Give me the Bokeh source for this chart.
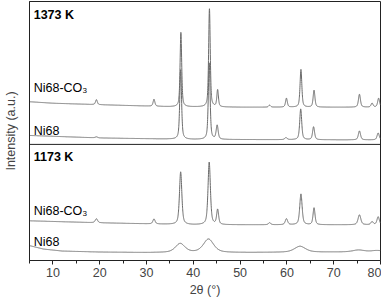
import numpy as np
from bokeh.plotting import figure
from bokeh.models import Span, FixedTicker, Label
from bokeh.embed import file_html
from bokeh.resources import INLINE

# ---- data ----
two_theta_min, two_theta_max = 5, 80
x_ticks = [10, 20, 30, 40, 50, 60, 70, 80]
x_minor = [5, 15, 25, 35, 45, 55, 65, 75]

# 1373 K, Ni68-CO3
hiT_co3_pos = [19.3, 31.6, 37.35, 43.45, 45.2, 56.3, 59.9, 63.0, 65.8, 75.5, 78.2, 79.6]
hiT_co3_hgt = [5, 7, 75, 99, 17, 2, 9, 38, 17, 13, 4, 9]
hiT_co3_fw = [0.45, 0.45, 0.4, 0.4, 0.4, 0.5, 0.45, 0.45, 0.45, 0.5, 0.5, 0.5]
hiT_co3_bg_x = [5, 10, 20, 35, 50, 80]
hiT_co3_bg_y = [160, 158.5, 157, 155, 154.5, 154.5]

# 1373 K, Ni68
hiT_ni_pos = [19.3, 37.3, 43.4, 45.1, 59.8, 62.95, 65.7, 75.5, 79.5]
hiT_ni_hgt = [1, 70, 77, 14, 2, 31, 13, 9, 7]
hiT_ni_fw = [0.6, 0.45, 0.45, 0.5, 0.6, 0.5, 0.5, 0.55, 0.55]
hiT_ni_bg_x = [5, 20, 40, 80]
hiT_ni_bg_y = [126, 123.5, 122, 121.5]

# 1173 K, Ni68-CO3
loT_co3_pos = [19.3, 31.6, 37.3, 43.4, 45.2, 56.3, 59.9, 63.0, 65.8, 75.5, 78.2, 79.5]
loT_co3_hgt = [4, 5, 53, 63, 15, 2, 6, 31, 17, 10, 3, 8]
loT_co3_fw = [0.6, 0.55, 0.6, 0.6, 0.5, 0.6, 0.6, 0.6, 0.5, 0.7, 0.6, 0.6]
loT_co3_bg_x = [5, 20, 40, 80]
loT_co3_bg_y = [40, 38, 36, 36]

# 1173 K, Ni68 (broad)
loT_ni_pos = [37.2, 43.25, 62.8, 75.3, 79.3]
loT_ni_hgt = [9, 13.5, 6, 2, 1.5]
loT_ni_fw = [2.4, 2.6, 2.8, 3.0, 3.0]
loT_ni_bg_x = [5, 8, 12, 20, 30, 50, 70, 80]
loT_ni_bg_y = [15, 11.5, 9.5, 8.5, 8, 8, 8.5, 8.5]

divider_level = 117
y_min, y_max = 0, 261

labels = [
    ("1373 K", 247, True),
    ("Ni68-CO\u2083", 174, False),
    ("Ni68", 131, False),
    ("1173 K", 104, True),
    ("Ni68-CO\u2083", 50, False),
    ("Ni68", 19, False),
]

x = np.arange(two_theta_min, two_theta_max + 0.001, 0.02)


def pattern(pos, hgt, fw, bgx, bgy, eta=0.55):
    y = np.interp(x, bgx, bgy)
    for p0, h, w in zip(pos, hgt, fw):
        d = (x - p0) / (w / 2.0)
        y = y + h * (eta / (1 + d * d) + (1 - eta) * np.exp(-np.log(2) * d * d))
    return y


FONT = "Liberation Sans"
p = figure(width=381, height=299, output_backend="svg", toolbar_location=None,
           x_range=(two_theta_min, two_theta_max), y_range=(y_min, y_max),
           min_border_left=29, min_border_right=1, min_border_top=1, min_border_bottom=0)
p.grid.visible = False
p.outline_line_color = "#222222"
p.outline_line_width = 1
p.background_fill_color = "white"
p.border_fill_color = "white"

LC = "#6a6a6a"
for args in [
    (hiT_co3_pos, hiT_co3_hgt, hiT_co3_fw, hiT_co3_bg_x, hiT_co3_bg_y),
    (hiT_ni_pos, hiT_ni_hgt, hiT_ni_fw, hiT_ni_bg_x, hiT_ni_bg_y),
    (loT_co3_pos, loT_co3_hgt, loT_co3_fw, loT_co3_bg_x, loT_co3_bg_y),
    (loT_ni_pos, loT_ni_hgt, loT_ni_fw, loT_ni_bg_x, loT_ni_bg_y),
]:
    p.line(x, pattern(*args), line_color=LC, line_width=1)

p.add_layout(Span(location=divider_level, dimension="width", line_color="#222222", line_width=1))

for txt, yy, bold in labels:
    p.add_layout(Label(x=5.9, y=yy, text=txt, text_font=FONT, text_font_size="12.5px",
                       text_font_style="bold" if bold else "normal",
                       text_color="black", text_baseline="middle", text_align="left"))

xa = p.xaxis[0]
xa.ticker = FixedTicker(ticks=x_ticks, minor_ticks=x_minor)
xa.axis_label = "2\u03b8 (\u00b0)"
xa.axis_label_text_font = FONT
xa.axis_label_text_font_style = "normal"
xa.axis_label_text_font_size = "12.5px"
xa.axis_label_standoff = 3
xa.major_label_text_font = FONT
xa.major_label_text_font_size = "12.5px"
xa.major_label_standoff = 3
xa.major_tick_in = 0
xa.major_tick_out = 4
xa.minor_tick_in = 0
xa.minor_tick_out = 3
xa.axis_line_color = "#222222"
xa.major_tick_line_color = "#222222"
xa.minor_tick_line_color = "#222222"

ya = p.yaxis[0]
ya.axis_label = "Intensity (a.u.)"
ya.axis_label_text_font = FONT
ya.axis_label_text_font_style = "normal"
ya.axis_label_text_font_size = "12.5px"
ya.axis_label_standoff = 12
ya.major_label_text_font_size = "0px"
ya.major_label_standoff = 0
ya.major_tick_line_color = None
ya.minor_tick_line_color = None
ya.axis_line_color = "#222222"
ya.ticker = FixedTicker(ticks=[])

open("out.html", "w").write(file_html(p, INLINE))
